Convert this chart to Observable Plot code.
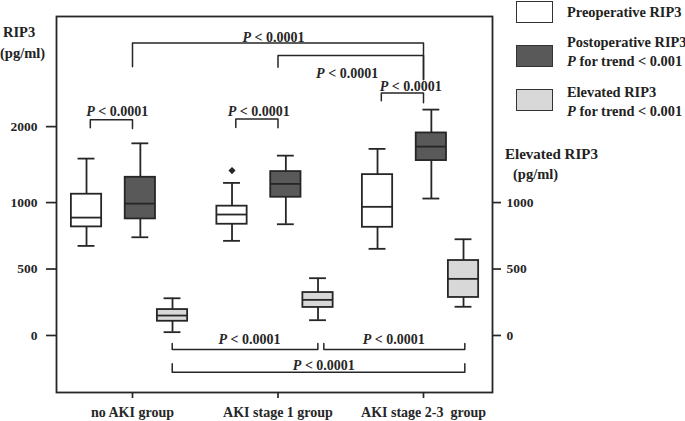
<!DOCTYPE html>
<html><head><meta charset="utf-8">
<script src="https://cdn.jsdelivr.net/npm/d3@7"></script>
<script src="https://cdn.jsdelivr.net/npm/@observablehq/plot@0.6"></script>
<style>
body{margin:0;background:#fff;}
#wrap{position:relative;width:685px;height:421px;overflow:hidden;font-family:'Liberation Serif','Times New Roman',Times,serif;font-weight:bold;font-size:14.4px;color:#222;}
#wrap .t{position:absolute;white-space:pre;line-height:19px;}
#wrap .sw{position:absolute;width:35px;height:20px;border:1.7px solid #333;}
</style></head>
<body><div id="wrap"></div>
<script>
// ---- data ----
const groups = ["no AKI group", "AKI stage 1 group", "AKI stage 2-3  group"];
const seriesNames = ["Preoperative RIP3", "Postoperative RIP3", "Elevated RIP3"];
// box statistics per series, one value per group (pg/ml)
const preLo  = [674, 712, 652],  preQ1  = [817, 837, 814],  preMed  = [887, 910, 968],  preQ3  = [1110, 973, 1368],  preHi  = [1579, 1259, 1707];
const postLo = [739, 837, 1053], postQ1 = [877, 1070, 1553], postMed = [992, 1246, 1737], postQ3 = [1333, 1408, 1917], postHi = [1780, 1618, 2224];
const elevLo = [25, 115, 216],   elevQ1 = [107, 211, 286],   elevMed = [150, 268, 426],   elevQ3 = [195, 323, 564],   elevHi = [280, 431, 724];
const outlierSeries = ["Preoperative RIP3"], outlierGroup = [1], outlierValue = [1421];
const leftTicks = [0, 500, 1000, 2000];
const rightTicks = [0, 500, 1000];
const pLabel = "P < 0.0001";
// significance brackets: start/end (group units), bar level, leg ends (pg/ml)
const brX1 = [0, 1, -0.29, 0.71, 1.71, 0.273, 1.315, 0.273];
const brX2 = [2, 2, 0, 1, 2, 1.274, 2.284, 2.284];
const brY  = [3102, 2935, 2092, 2101, 2443, -105, -105, -276];
const brYL = [2790, 2781, 1985, 1990, 2342, -60, -60, -213];
const brYR = [2619, 2619, 1975, 1985, 2316, -60, -60, -213];
const lbX = [0.969, 1.475, -0.105, 0.868, 1.912, 0.804, 1.796, 1.315];
const lbY = [3177, 2700, 2198, 2198, 2530, -30, -30, -226];

// ---- styling / layout ----
const offset = {"Preoperative RIP3": -0.316, "Postoperative RIP3": 0.054, "Elevated RIP3": 0.275};
const fills = {"Preoperative RIP3": "#ffffff", "Postoperative RIP3": "#595959", "Elevated RIP3": "#d8d8d8"};
const HW = 0.104, CAP = 0.058, INK = "#262626", SW = 1.8;
// the left axis is compressed above 1000 pg/ml
const BREAK = 1000, COMPRESS = 76 / 133;
const yTransform = v => v <= BREAK ? v : BREAK + (v - BREAK) * COMPRESS;
const yInverse = t => t <= BREAK ? t : BREAK + (t - BREAK) / COMPRESS;

const stats = [[preLo, preQ1, preMed, preQ3, preHi], [postLo, postQ1, postMed, postQ3, postHi], [elevLo, elevQ1, elevMed, elevQ3, elevHi]];
const boxes = [];
seriesNames.forEach((s, si) => groups.forEach((g, gi) => {
  const [lo, q1, md, q3, hi] = stats[si].map(a => a[gi]);
  boxes.push({series: s, gi, xc: gi + offset[s], lo, q1, md, q3, hi});
}));
const outliers = outlierValue.map((v, i) => ({xc: outlierGroup[i] + offset[outlierSeries[i]], v}));
const brPts = [];
brX1.forEach((x1, i) => {
  brPts.push({id: i, x: x1, y: brYL[i]}, {id: i, x: x1, y: brY[i]}, {id: i, x: brX2[i], y: brY[i]}, {id: i, x: brX2[i], y: brYR[i]});
});
const labels = lbX.map((x, i) => ({x, y: lbY[i], t: pLabel}));
const FONT = "'Liberation Serif','Times New Roman',Times,serif";

const plot = Plot.plot({
  width: 685, height: 421,
  marginLeft: 56, marginRight: 193, marginTop: 16, marginBottom: 29,
  x: {domain: [-0.5223, 2.4742]},
  y: {transform: yTransform, domain: [-429, yTransform(3450)]},
  style: {fontFamily: FONT, fontSize: "14px", fontWeight: "bold", color: INK, background: "white"},
  marks: [
    // axis ticks are placed on the transformed scale and labelled in pg/ml
    Plot.axisY({anchor: "left", ticks: leftTicks.map(yTransform), tickFormat: t => String(Math.round(yInverse(t))), tickSize: 10, tickPadding: 9, strokeWidth: 1.7, label: null, fontSize: 13.5}),
    Plot.axisY({anchor: "right", ticks: rightTicks.map(yTransform), tickFormat: t => String(Math.round(yInverse(t))), tickSize: 8, tickPadding: 6, strokeWidth: 1.7, label: null, fontSize: 13.5}),
    Plot.axisX({ticks: [0, 1, 2], tickFormat: i => groups[i], tickSize: 6, tickPadding: 9, strokeWidth: 1.7, label: null}),
    Plot.ruleX(boxes, {x: "xc", y1: "q3", y2: "hi", stroke: INK, strokeWidth: SW}),
    Plot.ruleX(boxes, {x: "xc", y1: "lo", y2: "q1", stroke: INK, strokeWidth: SW}),
    Plot.ruleY(boxes, {y: "hi", x1: d => d.xc - CAP, x2: d => d.xc + CAP, stroke: INK, strokeWidth: SW}),
    Plot.ruleY(boxes, {y: "lo", x1: d => d.xc - CAP, x2: d => d.xc + CAP, stroke: INK, strokeWidth: SW}),
    Plot.rect(boxes, {x1: d => d.xc - HW, x2: d => d.xc + HW, y1: "q1", y2: "q3", fill: d => fills[d.series], stroke: INK, strokeWidth: SW}),
    Plot.ruleY(boxes, {y: "md", x1: d => d.xc - HW, x2: d => d.xc + HW, stroke: INK, strokeWidth: SW}),
    Plot.dot(outliers, {x: "xc", y: "v", symbol: "diamond2", r: 3.2, fill: INK, stroke: null}),
    Plot.line(brPts, {x: "x", y: "y", z: "id", stroke: INK, strokeWidth: 1.5, curve: "linear"}),
    Plot.text(labels, {x: "x", y: "y", text: "t", fill: INK, fontSize: 14, fontWeight: "bold"}),
    Plot.frame({stroke: INK, strokeWidth: 1.8})
  ]
});
// italic P in the significance labels
plot.querySelectorAll("text").forEach(t => {
  if (t.textContent === pLabel) {
    t.textContent = "";
    const a = document.createElementNS("http://www.w3.org/2000/svg", "tspan");
    a.setAttribute("font-style", "italic"); a.textContent = "P";
    const b = document.createElementNS("http://www.w3.org/2000/svg", "tspan");
    b.textContent = pLabel.slice(1);
    t.append(a, b);
  }
});
plot.querySelectorAll("text").forEach(t => t.setAttribute("xml:space", "preserve"));
plot.style.whiteSpace = "pre";
const wrap = document.getElementById("wrap");
wrap.appendChild(plot);

function addText(txt, left, top, html, size) {
  const d = document.createElement("div");
  d.className = "t"; d.style.left = left + "px"; d.style.top = top + "px";
  if (size) d.style.fontSize = size + "px";
  if (html) d.innerHTML = txt; else d.textContent = txt;
  wrap.appendChild(d);
}
function addSwatch(left, top, color) {
  const d = document.createElement("div");
  d.className = "sw"; d.style.left = left + "px"; d.style.top = top + "px"; d.style.background = color;
  wrap.appendChild(d);
}
addText("RIP3", 3, 23, false, 14.5);
addText("(pg/ml)", 0, 44, false, 14.5);
addText("Elevated RIP3", 505, 145, false, 15);
addText("(pg/ml)", 513, 165, false, 14.5);
addSwatch(516, 1, fills[seriesNames[0]]);
addSwatch(516, 45, fills[seriesNames[1]]);
addSwatch(516, 89, fills[seriesNames[2]]);
addText(seriesNames[0], 567, 3);
addText(seriesNames[1], 567, 33);
addText("<i>P</i> for trend &lt; 0.001", 567, 52, true);
addText(seriesNames[2], 567, 83);
addText("<i>P</i> for trend &lt; 0.001", 567, 102, true);
</script></body></html>
